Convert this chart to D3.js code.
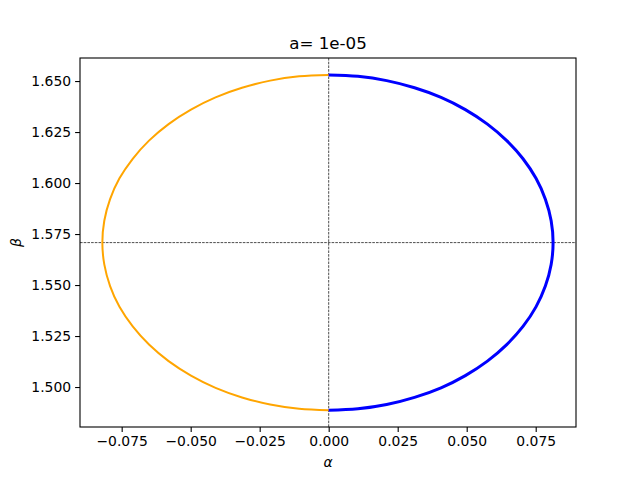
<!DOCTYPE html>
<html>
<head>
<meta charset="utf-8">
<script src="https://cdn.jsdelivr.net/npm/d3@7"></script>
<style>
  body { margin: 0; background: #fff; }
  svg { font-family: "DejaVu Sans", sans-serif; }
</style>
</head>
<body>
<svg id="vis" width="640" height="480"></svg>
<script>
// values
// beta along each half, top -> bottom (shared by both halves)
let betaValues = [1.6530, 1.6523, 1.6502, 1.6467, 1.6420, 1.6360, 1.6289, 1.6208, 1.6119, 1.6023, 1.5921, 1.5815, 1.5708,
                  1.5601, 1.5495, 1.5393, 1.5297, 1.5208, 1.5127, 1.5056, 1.4996, 1.4949, 1.4914, 1.4893, 1.4886];
// left half (orange)
let alphaLeft = [0, -0.0107, -0.0212, -0.0314, -0.0410, -0.0499, -0.0580, -0.0651, -0.0710, -0.0758, -0.0792, -0.0813, -0.0820,
                 -0.0813, -0.0792, -0.0758, -0.0710, -0.0651, -0.0580, -0.0499, -0.0410, -0.0314, -0.0212, -0.0107, 0];
// right half (blue)
let alphaRight = [0, 0.0106, 0.0210, 0.0311, 0.0407, 0.0495, 0.0575, 0.0645, 0.0704, 0.0751, 0.0785, 0.0806, 0.0813,
                  0.0806, 0.0785, 0.0751, 0.0704, 0.0645, 0.0575, 0.0495, 0.0407, 0.0311, 0.0210, 0.0106, 0];

let xTicks = [-0.075, -0.050, -0.025, 0.000, 0.025, 0.050, 0.075];
let yTicks = [1.500, 1.525, 1.550, 1.575, 1.600, 1.625, 1.650];
let betaCenter = 1.5708;

let svg = d3.select("#vis");
let margin = {top: 58, right: 64, bottom: 53, left: 80};
let plotWidth = 640 - margin.left - margin.right;
let plotHeight = 480 - margin.top - margin.bottom;

let x = d3.scaleLinear().domain([-0.0901, 0.0896]).range([0, plotWidth]);
let y = d3.scaleLinear().domain([1.4804, 1.6613]).range([plotHeight, 0]);

let plot = svg.append("g")
  .attr("transform", "translate(" + margin.left + "," + margin.top + ")");

// dashed reference lines
plot.append("line")
  .attr("x1", x(0)).attr("x2", x(0))
  .attr("y1", 0).attr("y2", plotHeight)
  .attr("stroke", "#000").attr("stroke-width", 0.7)
  .attr("stroke-dasharray", "2.6,1.1");
plot.append("line")
  .attr("x1", 0).attr("x2", plotWidth)
  .attr("y1", y(betaCenter)).attr("y2", y(betaCenter))
  .attr("stroke", "#000").attr("stroke-width", 0.7)
  .attr("stroke-dasharray", "2.6,1.1");

let line = d3.line()
  .x(function(d) { return x(d[0]); })
  .y(function(d) { return y(d[1]); })
  .curve(d3.curveCatmullRom.alpha(0.5));

plot.append("path")
  .attr("d", line(d3.zip(alphaLeft, betaValues)))
  .attr("stroke", "orange")
  .attr("stroke-width", 2)
  .attr("fill", "none");
plot.append("path")
  .attr("d", line(d3.zip(alphaRight, betaValues)))
  .attr("stroke", "blue")
  .attr("stroke-width", 3)
  .attr("fill", "none");

// axes
let xAxis = d3.axisBottom(x).tickValues(xTicks).tickFormat(d3.format(".3f")).tickSize(4.9).tickPadding(4);
let yAxis = d3.axisLeft(y).tickValues(yTicks).tickFormat(d3.format(".3f")).tickSize(4.9).tickPadding(4);

let gx = plot.append("g")
  .attr("transform", "translate(0," + plotHeight + ")")
  .call(xAxis);
let gy = plot.append("g").call(yAxis);
[gx, gy].forEach(function(g) {
  g.select(".domain").remove();
  g.selectAll("line").attr("stroke", "#000").attr("stroke-width", 1.1);
  g.selectAll("text").attr("fill", "#000").style("font-size", "13.9px").style("font-family", "DejaVu Sans");
});
gx.selectAll("text").text(function(d) { return d < 0 ? "\u2212" + d3.format(".3f")(-d) : d3.format(".3f")(d); });

// frame
plot.append("rect")
  .attr("width", plotWidth).attr("height", plotHeight)
  .attr("fill", "none").attr("stroke", "#000").attr("stroke-width", 1.1);

// titles
svg.append("text")
  .attr("x", margin.left + plotWidth / 2)
  .attr("y", 49)
  .style("text-anchor", "middle")
  .style("font-size", "16.7px")
  .text("a= 1e-05");
svg.append("text")
  .attr("x", margin.left + plotWidth / 2)
  .attr("y", 467)
  .style("text-anchor", "middle")
  .style("font-size", "13.9px")
  .style("font-style", "italic")
  .text("α");
svg.append("text")
  .attr("transform", "translate(21," + (margin.top + plotHeight / 2) + ") rotate(-90)")
  .style("text-anchor", "middle")
  .style("font-size", "13.9px")
  .style("font-style", "italic")
  .text("β");
</script>
</body>
</html>
